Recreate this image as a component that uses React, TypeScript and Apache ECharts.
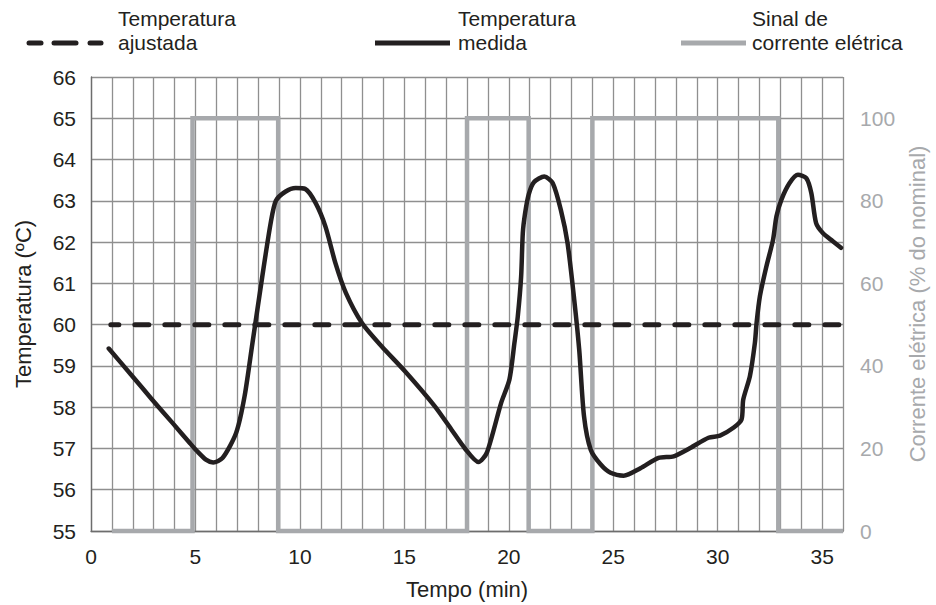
import React, { useEffect, useRef } from "react";
import * as echarts from "echarts";

// Measured temperature (ºC) vs time (min)
const timeMin = [
  0.85, 1.9, 2.9, 3.9, 4.75, 5.05, 5.5, 5.85, 6.3, 6.95, 7.35, 7.73, 8.2, 8.6, 8.85, 9.3, 9.8,
  10.25, 10.75, 11.22, 11.7, 12.2, 12.97, 13.92, 15.03, 16.46, 17.25, 17.9, 18.55, 18.95,
  19.63, 20.03, 20.27, 20.43, 20.59, 20.67, 20.78, 20.95, 21.2, 21.7, 22.1, 22.49, 22.81,
  23.13, 23.37, 23.6, 23.92, 24.4, 24.87, 25.5, 26.3, 27.17, 27.89, 28.68, 29.56, 30.11,
  30.75, 31.14, 31.22, 31.54, 31.78, 31.86, 32.02, 32.33, 32.65, 32.81, 33.05, 33.44, 33.84,
  34.24, 34.48, 34.71, 35.03, 35.51, 35.9,
];
const tempMeasured = [
  59.42, 58.8, 58.2, 57.62, 57.12, 56.95, 56.73, 56.66, 56.77, 57.38, 58.26, 59.56, 61.17,
  62.46, 63.0, 63.22, 63.31, 63.29, 62.95, 62.38, 61.49, 60.77, 60.04, 59.47, 58.87, 58.02,
  57.46, 57.0, 56.67, 56.9, 58.1, 58.67, 59.56, 60.2, 61.17, 62.22, 62.7, 63.15, 63.45, 63.59,
  63.43, 62.78, 61.98, 60.61, 59.39, 57.78, 56.97, 56.61, 56.41, 56.34, 56.52, 56.77, 56.81,
  57.01, 57.26, 57.31, 57.5, 57.7, 58.18, 58.75, 59.56, 60.04, 60.69, 61.41, 62.06, 62.62,
  63.03, 63.43, 63.63, 63.55, 63.19, 62.46, 62.22, 62.02, 61.86,
];

// Set point (ºC)
const setpointTime = [0.95, 36];
const setpointTemp = [60, 60];

// Electric current signal (% of nominal)
const signalTime = [1, 4.86, 4.86, 8.96, 8.96, 18, 18, 20.95, 20.95, 24, 24, 32.9, 32.9, 36];
const signalPct = [0, 0, 100, 100, 0, 0, 100, 100, 0, 0, 100, 100, 0, 0];

// Labels
const legendLines = [
  ["Temperatura", "ajustada"],
  ["Temperatura", "medida"],
  ["Sinal de", "corrente elétrica"],
];
const xAxisName = "Tempo (min)";
const yLeftName = "Temperatura (ºC)";
const yRightName = "Corrente elétrica (% do nominal)";

const BLACK = "#231f20";
const GRAY = "#a7a9ac";
const GRID = "#8f8f8f";
const FONT = "'Liberation Sans', Arial, Helvetica, sans-serif";

export default function App() {
  const ref = useRef<HTMLDivElement>(null);

  useEffect(() => {
    if (!ref.current) return;
    const chart = echarts.init(ref.current, undefined, { renderer: "svg" });
    const zip = (xs: number[], ys: number[]) => xs.map((x, i) => [x, ys[i]]);

    const legendX = [118, 458, 752];
    const legendTexts: any[] = [];
    legendLines.forEach((lines, i) => {
      lines.forEach((t, j) => {
        legendTexts.push({
          type: "text",
          x: legendX[i],
          y: 8 + j * 24,
          style: {
            text: t,
            fill: BLACK,
            font: `21px ${FONT}`,
            lineHeight: 21,
            verticalAlign: "top",
            align: "left",
          },
        });
      });
    });

    chart.setOption({
      animation: false,
      backgroundColor: "#ffffff",
      textStyle: { fontFamily: FONT },
      grid: { left: 91, right: 91, top: 77, bottom: 74, containLabel: false },
      xAxis: {
        type: "value",
        min: 0,
        max: 36,
        interval: 1,
        name: xAxisName,
        nameLocation: "middle",
        nameGap: 47,
        nameTextStyle: { color: BLACK, fontSize: 22, fontFamily: FONT },
        axisLine: { show: true, lineStyle: { color: "#6d6d6d", width: 1.3 } },
        axisTick: { show: false },
        axisLabel: {
          margin: 15,
          color: BLACK,
          fontSize: 21,
          fontFamily: FONT,
          formatter: (v: number) => (v % 5 === 0 ? String(v) : ""),
        },
        splitLine: { show: true, lineStyle: { color: GRID, width: 1.3 } },
      },
      yAxis: [
        {
          type: "value",
          min: 55,
          max: 66,
          interval: 1,
          position: "left",
          name: yLeftName,
          nameLocation: "middle",
          nameGap: 57,
          nameTextStyle: { color: BLACK, fontSize: 22, fontFamily: FONT },
          axisLine: { show: true, lineStyle: { color: "#6d6d6d", width: 1.3 } },
          axisTick: { show: false },
          axisLabel: { margin: 15, color: BLACK, fontSize: 21, fontFamily: FONT },
          splitLine: { show: true, lineStyle: { color: GRID, width: 1.3 } },
        },
        {
          type: "value",
          min: 0,
          max: 110,
          interval: 10,
          position: "right",
          name: yRightName,
          nameLocation: "middle",
          nameGap: 61,
          nameTextStyle: { color: GRAY, fontSize: 22, fontFamily: FONT },
          axisLine: { show: false },
          axisTick: { show: false },
          axisLabel: {
            margin: 17,
            color: GRAY,
            fontSize: 21,
            fontFamily: FONT,
            formatter: (v: number) => (v % 20 === 0 && v <= 100 ? String(v) : ""),
          },
          splitLine: { show: false },
        },
      ],
      series: [
        {
          name: "Sinal de corrente elétrica",
          type: "line",
          yAxisIndex: 1,
          data: zip(signalTime, signalPct),
          showSymbol: false,
          symbol: "none",
          clip: false,
          lineStyle: { color: GRAY, width: 4.5, join: "miter" },
          z: 3,
        },
        {
          name: "Temperatura ajustada",
          type: "line",
          yAxisIndex: 0,
          data: zip(setpointTime, setpointTemp),
          showSymbol: false,
          symbol: "none",
          lineStyle: { color: BLACK, width: 5, type: [14, 16], dashOffset: 6, cap: "round" },
          z: 4,
        },
        {
          name: "Temperatura medida",
          type: "line",
          yAxisIndex: 0,
          data: zip(timeMin, tempMeasured),
          showSymbol: false,
          symbol: "none",
          smooth: 0.25,
          lineStyle: { color: BLACK, width: 4.5, cap: "round", join: "round" },
          z: 5,
        },
      ],
      graphic: [
        { type: "line", shape: { x1: 29, y1: 43, x2: 41, y2: 43 }, style: { stroke: BLACK, lineWidth: 5, lineCap: "round" } },
        { type: "line", shape: { x1: 54, y1: 43, x2: 76, y2: 43 }, style: { stroke: BLACK, lineWidth: 5, lineCap: "round" } },
        { type: "line", shape: { x1: 90, y1: 43, x2: 101, y2: 43 }, style: { stroke: BLACK, lineWidth: 5, lineCap: "round" } },
        { type: "line", shape: { x1: 375, y1: 43, x2: 450, y2: 43 }, style: { stroke: BLACK, lineWidth: 5 } },
        { type: "line", shape: { x1: 681, y1: 43, x2: 746, y2: 43 }, style: { stroke: GRAY, lineWidth: 5 } },
        ...legendTexts,
      ],
    });

    return () => chart.dispose();
  }, []);

  return (
    <div
      ref={ref}
      style={{ position: "fixed", left: 0, top: 0, width: 936, height: 605, background: "#fff" }}
    />
  );
}
